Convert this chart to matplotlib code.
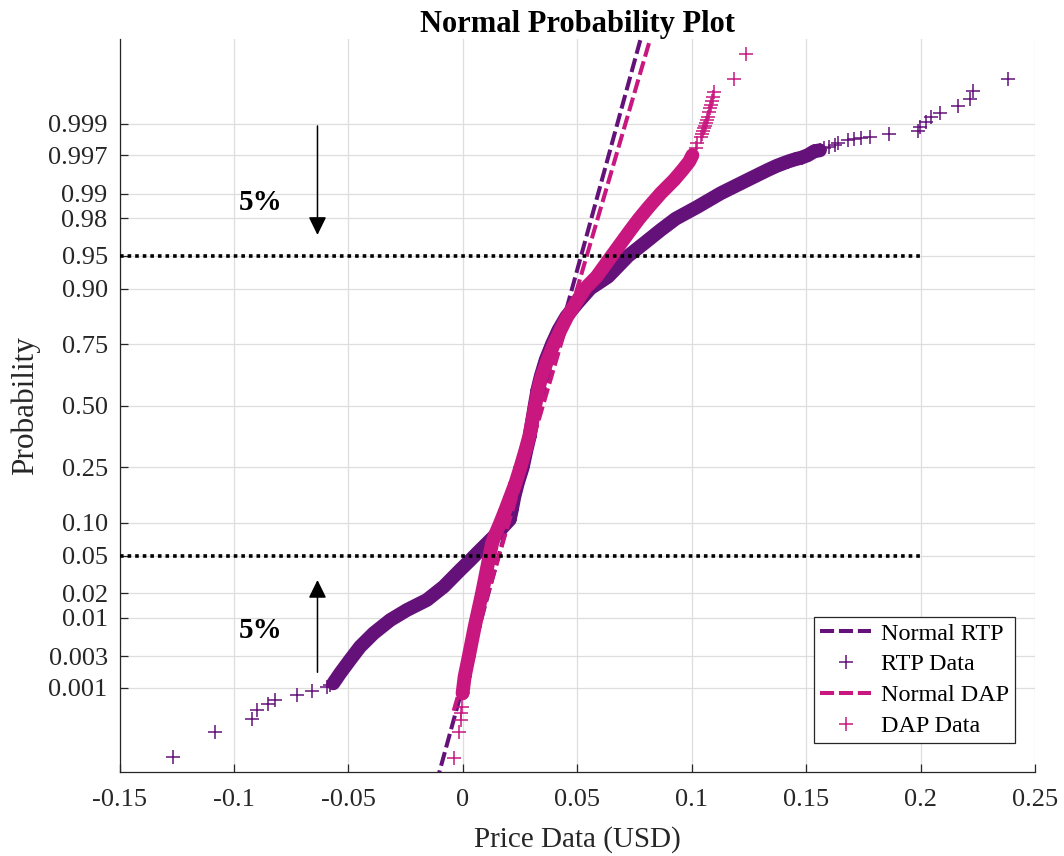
import numpy as np
import matplotlib
matplotlib.use("Agg")
import matplotlib.pyplot as plt
from statistics import NormalDist

# Hourly prices:
# price (USD) and the normal quantile (z) each point sits at
rtp_price = [-0.1266, -0.1084, -0.0923, -0.0901, -0.0850, -0.0821, -0.0726, -0.0660, -0.0595, -0.0580,
             -0.0566, -0.0536, -0.0493, -0.0449, -0.0390, -0.0317, -0.0244, -0.0157, -0.0084, -0.0011,
             0.0033, 0.0062, 0.0150, 0.0205, 0.0214, 0.0225, 0.0240, 0.0262, 0.0278, 0.0292,
             0.0314, 0.0326, 0.0340, 0.0362, 0.0390, 0.0418, 0.0452, 0.0500, 0.0558, 0.0635,
             0.0722, 0.0792, 0.0865, 0.0930, 0.1025, 0.1127, 0.1244, 0.1332, 0.1372, 0.1420,
             0.1450, 0.1480, 0.1507, 0.1536, 0.1560, 0.1580, 0.1600, 0.1624, 0.1638, 0.1682,
             0.1711, 0.1740, 0.1780, 0.1864, 0.1989, 0.1996, 0.2025, 0.2047, 0.2083, 0.2164,
             0.2215, 0.2229, 0.2383]
rtp_quantile = [-3.855, -3.575, -3.439, -3.337, -3.274, -3.227, -3.172, -3.125, -3.081, -3.060,
                -3.044, -2.934, -2.788, -2.643, -2.496, -2.350, -2.240, -2.130, -1.985, -1.800,
                -1.692, -1.618, -1.399, -1.250, -1.144, -1.000, -0.851, -0.675, -0.486, -0.340,
                0.000, 0.172, 0.318, 0.501, 0.677, 0.830, 0.976, 1.123, 1.287, 1.415,
                1.641, 1.780, 1.927, 2.050, 2.180, 2.329, 2.475, 2.584, 2.630, 2.676,
                2.700, 2.720, 2.746, 2.790, 2.800, 2.822, 2.840, 2.860, 2.877, 2.913,
                2.925, 2.932, 2.950, 2.979, 3.015, 3.060, 3.114, 3.162, 3.213, 3.286,
                3.360, 3.451, 3.579]

dap_price = [-0.0040, -0.0018, -0.0010, -0.0006, -0.0003, -0.0001, 0.0008, 0.0026, 0.0052, 0.0084,
             0.0113, 0.0128, 0.0138, 0.0164, 0.0186, 0.0208, 0.0230, 0.0252, 0.0274, 0.0290,
             0.0316, 0.0329, 0.0344, 0.0370, 0.0398, 0.0427, 0.0456, 0.0493, 0.0535, 0.0585,
             0.0650, 0.0733, 0.0770, 0.0813, 0.0865, 0.0923, 0.0960, 0.0989, 0.1003, 0.1018,
             0.1025, 0.1040, 0.1044, 0.1050, 0.1054, 0.1058, 0.1062, 0.1069, 0.1072, 0.1076,
             0.1080, 0.1084, 0.1087, 0.1091, 0.1098, 0.1186, 0.1237]
dap_quantile = [-3.866, -3.575, -3.447, -3.373, -3.300, -3.154, -2.971, -2.752, -2.423, -2.057,
                -1.692, -1.509, -1.436, -1.283, -1.144, -0.998, -0.851, -0.675, -0.486, -0.340,
                0.000, 0.172, 0.318, 0.501, 0.677, 0.830, 0.976, 1.123, 1.287, 1.415,
                1.641, 1.927, 2.050, 2.180, 2.329, 2.475, 2.584, 2.676, 2.746, 2.822,
                2.877, 2.950, 2.980, 3.010, 3.042, 3.070, 3.100, 3.133, 3.170, 3.224,
                3.260, 3.297, 3.340, 3.388, 3.443, 3.579, 3.856]

# normal fits (mean, std) behind the reference lines
rtp_fit = (0.0337, 0.01094)
dap_fit = (0.0350, 0.01166)

prob_ticks = [0.001, 0.003, 0.01, 0.02, 0.05, 0.10, 0.25, 0.50, 0.75, 0.90, 0.95, 0.98, 0.99, 0.997, 0.999]
prob_labels = ["0.001", "0.003", "0.01", "0.02", "0.05", "0.10", "0.25", "0.50",
               "0.75", "0.90", "0.95", "0.98", "0.99", "0.997", "0.999"]
price_ticks = [-0.15, -0.1, -0.05, 0, 0.05, 0.1, 0.15, 0.2, 0.25]
price_labels = ["-0.15", "-0.1", "-0.05", "0", "0.05", "0.1", "0.15", "0.2", "0.25"]
cutoffs = [0.05, 0.95]

RTP_COLOR = "#65117A"
DAP_COLOR = "#C8177F"

plt.rcParams["font.family"] = ["Liberation Serif", "DejaVu Serif"]
plt.rcParams["axes.unicode_minus"] = False

nd = NormalDist()


def draw_series(ax, price, quant, dense, color, label):
    price = np.array(price)
    quant = np.array(quant)
    # the bulk of the 8760 points overlap into a solid band
    inside = (quant >= dense[0]) & (quant <= dense[1])
    ax.plot(price[inside], quant[inside], color=color, lw=10,
            solid_capstyle="round", solid_joinstyle="round", zorder=3)
    ax.plot(price, quant, "+", color=color, ms=10, mew=1.1, label=label, zorder=3)


def draw_fit(ax, price, fit, color, label):
    x = np.array([min(price), max(price)])
    z = (x - fit[0]) / fit[1]
    ax.plot(x, z, color=color, lw=2.9, dashes=(3.5, 1.2), label=label, zorder=3)


fig = plt.figure(figsize=(10.64, 8.56), dpi=100)
ax = fig.add_axes([119.5 / 1064, 1 - 771.7 / 856, (1035 - 119.5) / 1064, (771.7 - 39.3) / 856])

draw_fit(ax, rtp_price, rtp_fit, RTP_COLOR, "Normal RTP")
draw_series(ax, rtp_price, rtp_quantile, (-3.05, 2.82), RTP_COLOR, "RTP Data")
draw_fit(ax, dap_price, dap_fit, DAP_COLOR, "Normal DAP")
draw_series(ax, dap_price, dap_quantile, (-3.16, 2.80), DAP_COLOR, "DAP Data")

# 5% tails
for p in cutoffs:
    zc = nd.inv_cdf(p)
    ax.plot([-0.15, 0.201], [zc, zc], color="k", lw=2.6, dashes=(1, 1.1), zorder=4)

arrow = dict(arrowstyle="-|>,head_length=0.55,head_width=0.27", color="k", lw=1.1,
             shrinkA=0, shrinkB=0, mutation_scale=20)
ax.annotate("", xy=(-0.0635, 1.872), xytext=(-0.0635, 3.067), arrowprops=arrow, zorder=5)
ax.annotate("", xy=(-0.0635, -1.911), xytext=(-0.0635, -2.923), arrowprops=arrow, zorder=5)
ax.text(-0.0884, 2.228, "5%", fontsize=21, fontweight="bold", ha="center", va="center")
ax.text(-0.0884, -2.470, "5%", fontsize=21, fontweight="bold", ha="center", va="center")

ax.set_xlim(-0.15, 0.25)
ax.set_ylim(-4.013, 4.017)
ax.set_xticks(price_ticks)
ax.set_xticklabels(price_labels)
ax.set_yticks([nd.inv_cdf(p) for p in prob_ticks])
ax.set_yticklabels(prob_labels)

ax.grid(True, color="#dedede", lw=0.9, zorder=0)
ax.set_axisbelow(True)
for side in ["top", "right"]:
    ax.spines[side].set_visible(False)
for side in ["left", "bottom"]:
    ax.spines[side].set_color("#262626")
    ax.spines[side].set_linewidth(0.9)
ax.tick_params(direction="in", length=6, width=0.9, colors="#262626", labelsize=19)
ax.tick_params(axis="y", pad=8.5)
ax.tick_params(axis="x", pad=12.5)

ax.set_xlabel("Price Data (USD)", fontsize=21, color="#262626", labelpad=11)
ax.set_ylabel("Probability", fontsize=22.5, color="#262626", labelpad=6)
ax.set_title("Normal Probability Plot", fontsize=22, fontweight="bold", pad=1)

leg = ax.legend(loc="lower right", bbox_to_anchor=(0.978, 0.039), fontsize=17.4,
                handlelength=2.1, handletextpad=0.4, labelspacing=0.37, borderpad=0.25,
                borderaxespad=0, fancybox=False, framealpha=1, edgecolor="#262626")
leg.get_frame().set_linewidth(0.9)

fig.savefig("out.png", dpi=100)
plt.close(fig)
